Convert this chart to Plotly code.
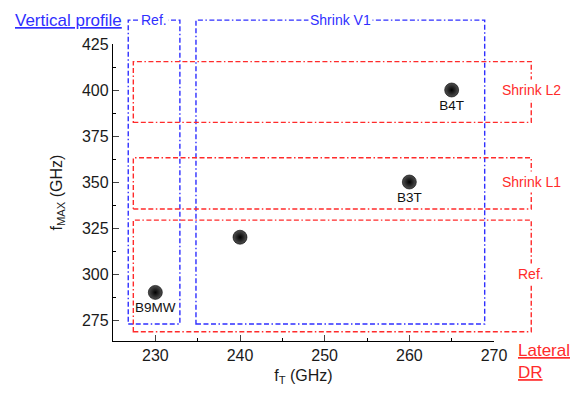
import plotly.graph_objects as go

# Device data: cut-off frequency fT and max oscillation frequency fMAX (GHz)
ft_ghz = [230, 240, 260, 265]
fmax_ghz = [290, 320, 350, 400]
device_labels = ["B9MW", "", "B3T", "B4T"]

# Process-variant regions (fT range, fMAX range)
vertical_boxes = {
    "Ref.": ([226.8, 232.9], [272.8, 438.0]),
    "Shrink V1": ([234.8, 268.9], [272.8, 438.0]),
}
lateral_boxes = {
    "Shrink L2": ([227.4, 274.4], [382.4, 415.4]),
    "Shrink L1": ([227.4, 274.4], [335.3, 363.2]),
    "Ref.": ([227.4, 274.4], [268.6, 329.3]),
}
lateral_label_y = {"Shrink L2": 400, "Shrink L1": 350, "Ref.": 300}

X_RANGE = [225, 270]
Y_RANGE = [263.6, 425]

BLUE = "#2f2fff"
RED = "#ff2b2b"
FONT = "Liberation Sans, Arial, sans-serif"
DASH = "5px,2.5px,5px,2.5px,5px,2.5px,1.5px,2.5px"


def px(x):
    return (x - X_RANGE[0]) / (X_RANGE[1] - X_RANGE[0])


def py(y):
    return (y - Y_RANGE[0]) / (Y_RANGE[1] - Y_RANGE[0])


fig = go.Figure()

fig.add_trace(go.Scatter(
    x=ft_ghz, y=fmax_ghz, mode="markers+text",
    text=device_labels, textposition="bottom center",
    textfont=dict(family=FONT, size=13.5, color="#111"),
    marker=dict(size=14, color="#505050",
                gradient=dict(type="radial", color="#000000"),
                line=dict(width=0.6, color="#000")),
    cliponaxis=False, showlegend=False,
))

shapes = []
for name, (xs, ys) in vertical_boxes.items():
    shapes.append(dict(type="rect", xref="paper", yref="paper",
                       x0=px(xs[0]), x1=px(xs[1]), y0=py(ys[0]), y1=py(ys[1]),
                       line=dict(color=BLUE, width=1.4, dash=DASH)))
for name, (xs, ys) in lateral_boxes.items():
    shapes.append(dict(type="rect", xref="paper", yref="paper",
                       x0=px(xs[0]), x1=px(xs[1]), y0=py(ys[0]), y1=py(ys[1]),
                       line=dict(color=RED, width=1.4, dash=DASH)))

annotations = []
# Labels sitting on the top edge of the vertical-profile boxes
for name, (xs, ys) in vertical_boxes.items():
    annotations.append(dict(xref="paper", yref="paper",
                            x=px((xs[0] + xs[1]) / 2), y=py(ys[1]),
                            xanchor="center", yanchor="middle",
                            text=name, showarrow=False, bgcolor="white",
                            borderpad=1,
                            font=dict(family=FONT, size=14, color=BLUE)))
# Labels sitting on the right edge of the lateral boxes
for name, (xs, ys) in lateral_boxes.items():
    annotations.append(dict(xref="paper", yref="paper",
                            x=px(xs[1]), y=py(lateral_label_y[name]),
                            xanchor="center", yanchor="middle",
                            text=name, showarrow=False, bgcolor="white",
                            borderpad=2,
                            font=dict(family=FONT, size=14, color=RED)))

annotations.append(dict(xref="paper", yref="paper", x=-0.262, y=1.08,
                        xanchor="left", yanchor="middle",
                        text="<u>Vertical profile</u>", showarrow=False,
                        font=dict(family=FONT, size=17, color=BLUE)))
annotations.append(dict(xref="paper", yref="paper", x=1.057, y=-0.07,
                        xanchor="left", yanchor="middle", align="left",
                        text="<u>Lateral</u><br><u>DR</u>", showarrow=False,
                        font=dict(family=FONT, size=17, color=RED)))

fig.update_layout(
    width=573, height=396,
    margin=dict(l=113, r=79, t=44, b=55),
    paper_bgcolor="white", plot_bgcolor="white",
    font=dict(family=FONT, size=16, color="#1a1a1a"),
    shapes=shapes, annotations=annotations,
    xaxis=dict(range=X_RANGE, tick0=230, dtick=10, ticks="inside", ticklen=6,
               tickwidth=1.2, showline=True, linecolor="black", linewidth=1.4,
               showgrid=False, zeroline=False,
               minor=dict(ticks="inside", ticklen=3, dtick=5, tick0=225,
                          tickcolor="black"),
               title=dict(text="f<sub>T</sub> (GHz)", standoff=6,
                          font=dict(size=16))),
    yaxis=dict(range=Y_RANGE, tick0=275, dtick=25, ticks="inside", ticklen=6,
               tickwidth=1.2, showline=True, linecolor="black", linewidth=1.4,
               showgrid=False, zeroline=False,
               minor=dict(ticks="inside", ticklen=3, dtick=12.5, tick0=275,
                          tickcolor="black"),
               title=dict(text="f<sub>MAX</sub> (GHz)", standoff=15,
                          font=dict(size=16))),
)

fig.write_html("out.html")
